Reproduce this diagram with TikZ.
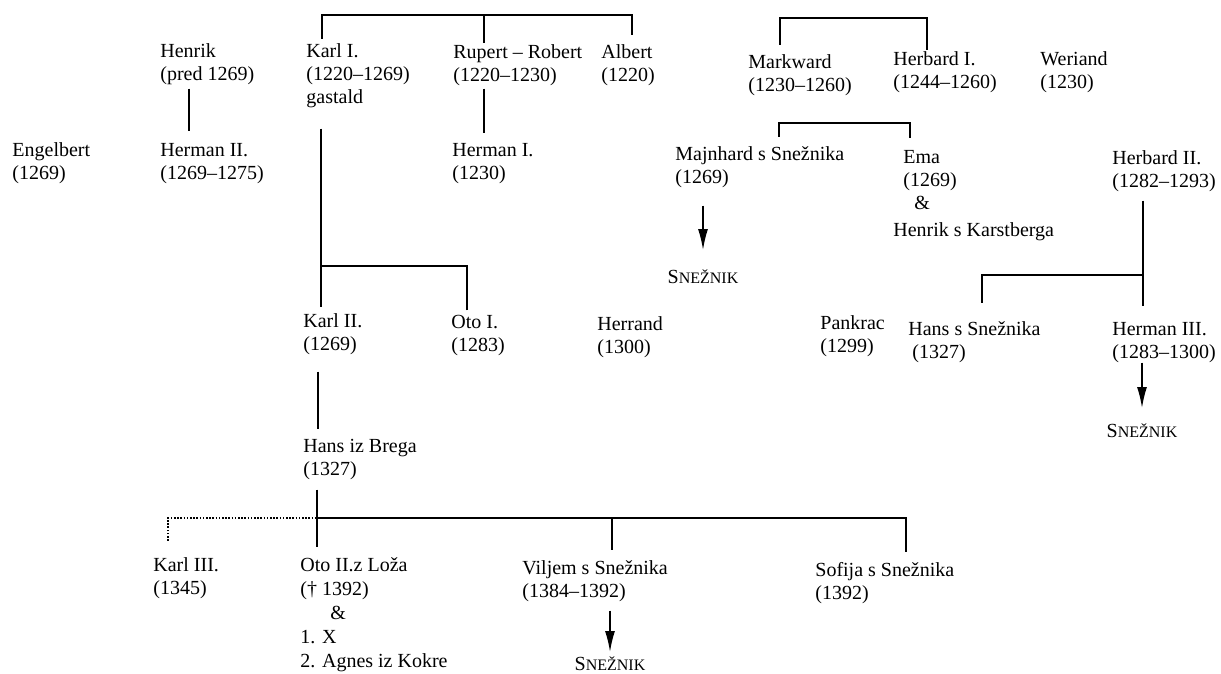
\documentclass[tikz,border=0pt]{standalone}
\usepackage{fontspec}
\setmainfont{Liberation Serif}
\usetikzlibrary{arrows.meta}
\newcommand{\snez}{S{\fontsize{8}{9}\selectfont NEŽNIK}}
\tikzset{
  person/.style={anchor=base west, align=left, inner sep=0pt},
  place/.style={anchor=north, inner sep=0pt},
  kin/.style={line width=0.8pt},
  descent/.style={kin, -{Latex[length=10.5pt,width=5pt]}},
}

\begin{document}
\begin{tikzpicture}[x=0.5pt, y=-0.5pt, font=\fontsize{10}{11.5}\selectfont]
\useasboundingbox (0,0) rectangle (1221,674);

% first generations (placed at the baseline of the last line)
\node[person] (engel) at (12,179) {Engelbert\\(1269)};
\node[person] (henrik) at (160,81) {Henrik\\(pred 1269)};
\node[person] (hermanII) at (160,179) {Herman II.\\(1269–1275)};
\node[person] (karlI) at (306,104) {Karl I.\\(1220–1269)\\gastald};
\node[person] (rupert) at (453,82) {Rupert – Robert\\(1220–1230)};
\node[person] (albert) at (601,82) {Albert\\(1220)};
\node[person] (hermanI) at (452,179) {Herman I.\\(1230)};
\node[person] (markward) at (748,92) {Markward\\(1230–1260)};
\node[person] (herbardI) at (893,89) {Herbard I.\\(1244–1260)};
\node[person] (weriand) at (1040,89) {Weriand\\(1230)};
\node[person] (majnhard) at (675,184) {Majnhard s Snežnika\\(1269)};
\node[person] (ema) at (903,209) {Ema\\(1269)\\\hspace*{5.5pt}\&};
\node[person] (henrikK) at (893,236) {Henrik s Karstberga};
\node[person] (herbardII) at (1112,187) {Herbard II.\\(1282–1293)};
\node[place] (snezA) at (703,269) {\snez};

% middle generations
\node[person] (karlII) at (303,350) {Karl II.\\(1269)};
\node[person] (otoI) at (451,351) {Oto I.\\(1283)};
\node[person] (herrand) at (597,353) {Herrand\\(1300)};
\node[person] (pankrac) at (820,352) {Pankrac\\(1299)};
\node[person] (hansS) at (908,358) {Hans s Snežnika\\\hspace*{2pt}(1327)};
\node[person] (hermanIII) at (1112,358) {Herman III.\\(1283–1300)};
\node[place] (snezB) at (1142,423) {\snez};
\node[person] (hansB) at (303,475) {Hans iz Brega\\(1327)};

% last generation
\node[person] (karlIII) at (153,594) {Karl III.\\(1345)};
\node[person] (otoII) at (300,667) {Oto II.z Loža\\[0.5pt](† 1392)\\[0.5pt]\hspace*{15pt}\&\\[0.5pt]1. X\\[0.5pt]2. Agnes iz Kokre};
\node[person] (viljem) at (522,597) {Viljem s Snežnika\\(1384–1392)};
\node[person] (sofija) at (815,599) {Sofija s Snežnika\\(1392)};
\node[place] (snezC) at (610,656) {\snez};

% junctions of the family bars
\coordinate (kinA) at (484,15);
\coordinate (kinK) at (321,266);
\coordinate (kinH) at (317,518);
\coordinate (kinM) at (850,18);
\coordinate (kinE) at (845,123);
\coordinate (kinB) at (1143,275);

\draw[kin] ([xshift=14.5pt,yshift=-1.5pt]henrik.south west) -- ([xshift=14.5pt,yshift=6pt]hermanII.north west);
\draw[kin] ([xshift=15.5pt,yshift=-1pt]rupert.south west) -- ([xshift=16pt,yshift=4.75pt]hermanI.north west);
\draw[kin] ([xshift=8pt,yshift=2.5pt]karlI.north west) |- (kinA) -| ([xshift=15.5pt,yshift=5pt]albert.north west);
\draw[kin] ([xshift=15.5pt,yshift=1pt]rupert.north west) -- (kinA);

\draw[kin] ([xshift=7.5pt,yshift=-10pt]karlI.south west) -- ([xshift=9pt,yshift=3pt]karlII.north west);
\draw[kin] ([xshift=8pt,yshift=2pt]otoI.north west) |- (kinK);
\draw[kin] ([xshift=7.5pt,yshift=-8.5pt]karlII.south west) -- ([xshift=7.5pt,yshift=4.75pt]hansB.north west);

\draw[kin] ([xshift=7pt,yshift=-5pt]hansB.south west) -- ([xshift=8.5pt,yshift=5pt]otoII.north west);
\draw[kin] ([xshift=45pt,yshift=5pt]viljem.north west) |- (kinH);
\draw[kin] ([xshift=45.5pt,yshift=5pt]sofija.north west) |- (kinH);
\draw[kin, dash pattern=on 0.8pt off 0.8pt] ([xshift=7.5pt,yshift=8pt]karlIII.north west) |- (kinH);

\draw[kin] ([xshift=16pt,yshift=5pt]markward.north west) |- (kinM) -| ([xshift=17pt,yshift=1pt]herbardI.north west);
\draw[kin] ([xshift=52pt,yshift=5pt]majnhard.north west) |- (kinE) -| ([xshift=3.5pt,yshift=6pt]ema.north west);
\draw[kin] ([xshift=15.5pt,yshift=-4.5pt]herbardII.south west) -- ([xshift=15.5pt,yshift=8pt]hermanIII.north west);
\draw[kin] ([xshift=37pt,yshift=9pt]hansS.north west) |- (kinB);

\draw[descent, shorten >=9.5pt] ([xshift=14pt,yshift=-8.5pt]majnhard.south west) -- (snezA.north);
\draw[descent, shorten >=7.5pt] ([xshift=15pt]hermanIII.south west) -- (snezB.north);
\draw[descent, shorten >=2pt] ([xshift=44pt,yshift=-4.5pt]viljem.south west) -- (snezC.north);
\end{tikzpicture}
\end{document}
